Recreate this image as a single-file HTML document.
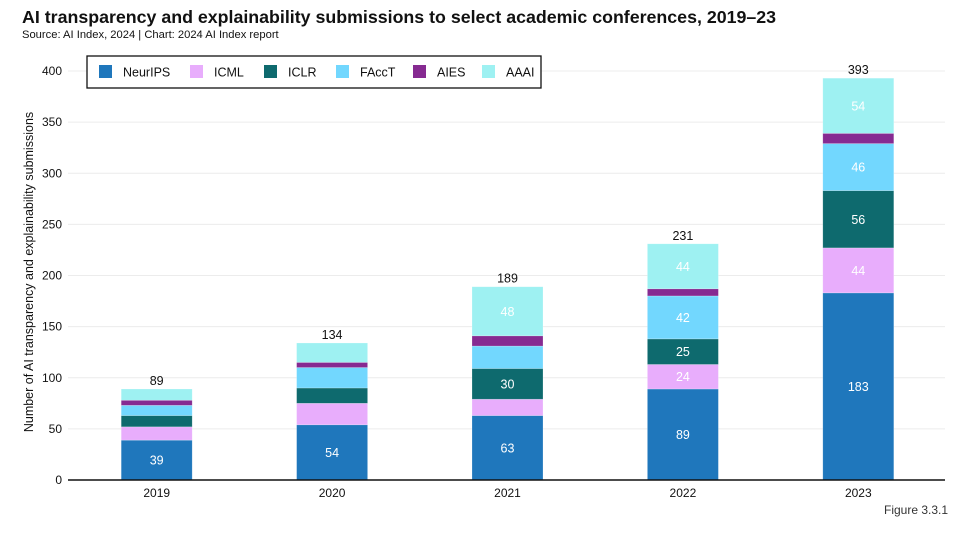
<!DOCTYPE html>
<html><head><meta charset="utf-8"><style>
body{margin:0;background:#fff;font-family:"Liberation Sans",sans-serif;}
svg text{font-family:"Liberation Sans",sans-serif;}
</style></head><body>
<svg width="969" height="529" viewBox="0 0 969 529">
<text x="22" y="23" font-size="17.8" font-weight="bold" fill="#111">AI transparency and explainability submissions to select academic conferences, 2019–23</text>
<text x="22" y="38" font-size="11.2" fill="#111">Source: AI Index, 2024 | Chart: 2024 AI Index report</text>
<g id="grid"></g>
<g id="bars"></g>
<g id="axes"></g>
<text transform="translate(33,272) rotate(-90)" text-anchor="middle" font-size="12.5" fill="#111">Number of AI transparency and explainability submissions</text>
<g id="legend">
<rect x="87" y="56" width="454" height="32" fill="#fff" stroke="#111" stroke-width="1.3"/>
</g>
<text x="884" y="514" font-size="12" fill="#333">Figure 3.3.1</text>
</svg>
<script>
const years=["2019","2020","2021","2022","2023"];
const seriesNames=["NeurIPS","ICML","ICLR","FAccT","AIES","AAAI"];
const neurips=[39,54,63,89,183];
const icml=[13,21,16,24,44];
const iclr=[11,15,30,25,56];
const facct=[10,20,22,42,46];
const aies=[5,5,10,7,10];
const aaai=[11,19,48,44,54];
const yTicks=[0,50,100,150,200,250,300,350,400];
const labeled=[[true,false,false,false,false,false],[true,false,false,false,false,false],[true,false,true,false,false,true],[true,true,true,true,false,true],[true,true,true,true,false,true]];
const colors=["#1f77bc","#e8adfc","#0e6a6e","#72d7fe","#862a91","#9ef1f2"];
const series=[neurips,icml,iclr,facct,aies,aaai];
const NS="http://www.w3.org/2000/svg";
const y0=480,yTop=71,xL=68,xR=945;
const y=v=>y0-(v/400)*(y0-yTop);
const band=(xR-xL)/years.length;
const x=i=>xL+band*(i+0.5)+1;
const bw=71;
function mk(tag,attrs,parent){const e=document.createElementNS(NS,tag);for(const k in attrs)e.setAttribute(k,attrs[k]);parent.appendChild(e);return e;}
const grid=document.getElementById('grid'),bars=document.getElementById('bars'),axes=document.getElementById('axes');
yTicks.forEach(t=>{
 const l=mk('line',{x1:xL,x2:xR,y1:y(t),y2:y(t),stroke:'#ececec','stroke-width':1},grid);
 
 
 const tx=mk('text',{x:62,y:y(t)+4,'text-anchor':'end','font-size':12,fill:'#111'},axes);
 tx.textContent=t;
 
 
});
years.forEach((yr,i)=>{
 let cum=0;
 series.forEach((s,k)=>{
  const v=s[i];
  const r=mk('rect',{x:x(i)-bw/2,y:y(cum+v),width:bw,height:y(cum)-y(cum+v),fill:colors[k],stroke:'rgba(255,255,255,0.35)','stroke-width':0.6},bars);
  
  
  if(labeled[i][k]){
   const t=mk('text',{x:x(i),y:(y(cum)+y(cum+v))/2+4.5,'text-anchor':'middle','font-size':12.5,fill:'#fff'},bars);
   t.textContent=v;
   
   
  }
  cum+=v;
 });
 const tt=mk('text',{x:x(i),y:y(cum)-4,'text-anchor':'middle','font-size':12.5,fill:'#111'},bars);
 tt.textContent=cum;
 
 
 const xl=mk('text',{x:x(i),y:497,'text-anchor':'middle','font-size':12,fill:'#111'},axes);
 xl.textContent=yr;
 
 
});
const ax=mk('line',{x1:xL,x2:xR,y1:y0,y2:y0,stroke:'#111','stroke-width':1.5},axes);


const leg=document.getElementById('legend');
const lx=[99,190,264,336,413,482];
seriesNames.forEach((n,k)=>{
 const r=mk('rect',{x:lx[k],y:65,width:13,height:13,fill:colors[k]},leg);
 
 
 const t=mk('text',{x:lx[k]+24,y:76.5,'font-size':12.5,fill:'#111'},leg);
 t.textContent=n;
 
 
});
</script>
</body></html>
